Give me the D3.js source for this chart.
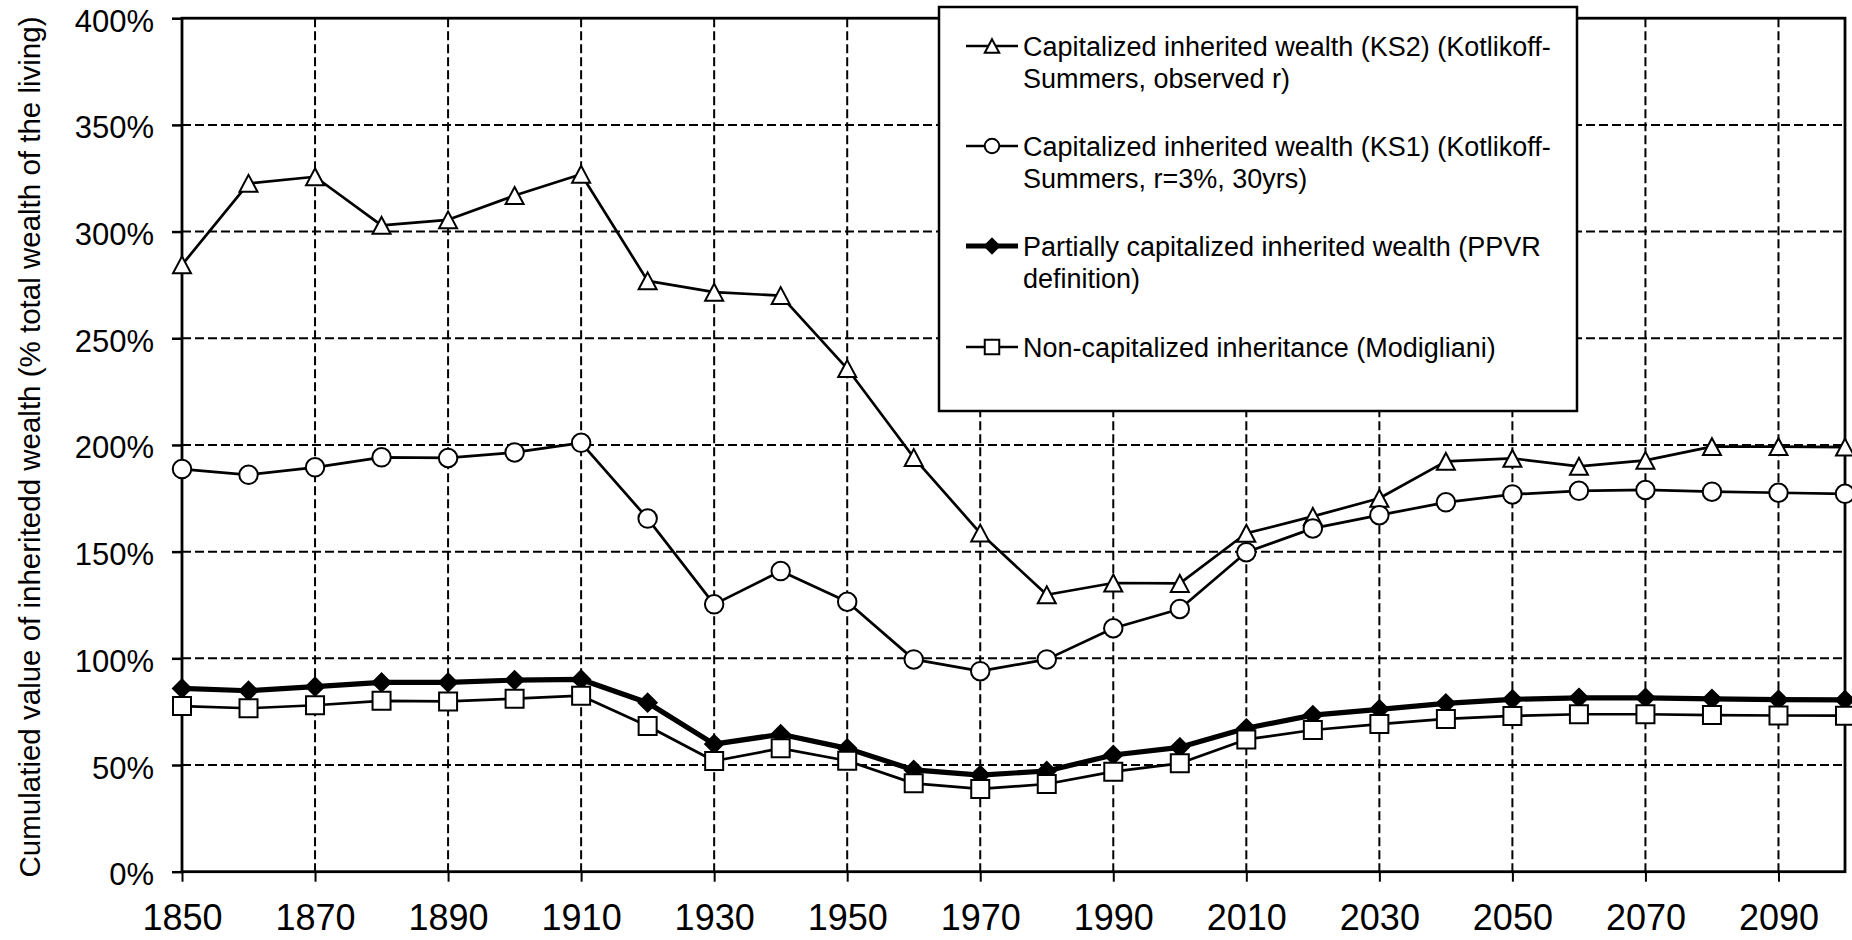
<!DOCTYPE html>
<html>
<head>
<meta charset="utf-8">
<script src="https://cdn.jsdelivr.net/npm/d3@7"></script>
<style>
  html, body { margin: 0; padding: 0; background: #fff; }
  svg { display: block; font-family: "Liberation Sans", Arial, sans-serif; }
</style>
</head>
<body>
<svg id="chart" width="1852" height="940"></svg>
<script>
// ---- data ----
const years = [1850,1860,1870,1880,1890,1900,1910,1920,1930,1940,1950,1960,1970,1980,1990,2000,2010,2020,2030,2040,2050,2060,2070,2080,2090,2100];
const ks2 = [284.4,322.6,325.7,302.9,305.5,316.9,326.9,276.9,271.6,270.0,235.8,194.1,158.7,129.8,135.3,135.1,158.6,166.5,175.0,192.3,193.7,190.0,192.8,199.2,199.2,199.0];
const ks1 = [188.7,186.0,189.5,194.2,193.9,196.5,201.0,165.5,125.3,140.9,126.5,99.5,94.0,99.5,114.1,123.1,149.7,160.9,167.1,173.1,176.8,178.5,178.9,178.1,177.6,177.1];
const ppvr = [85.9,84.8,86.7,88.7,88.7,89.8,90.1,79.2,59.8,64.4,57.8,47.7,45.3,47.2,54.7,58.3,67.2,73.4,76.1,78.9,80.8,81.5,81.5,81.0,80.6,80.5];
const modig = [77.6,76.6,78.0,80.1,79.8,81.1,82.5,68.3,51.9,57.8,52.0,41.4,38.8,41.1,46.9,50.8,62.0,66.4,69.2,71.6,73.0,73.8,73.8,73.4,73.2,73.1];
const yTicks = [0,50,100,150,200,250,300,350,400];
const xTicks = [1850,1870,1890,1910,1930,1950,1970,1990,2010,2030,2050,2070,2090];
const yTitle = "Cumulatied value of inheritedd wealth (% total wealth of the living)";
const legendLabels = [
  ["Capitalized inherited wealth (KS2) (Kotlikoff-", "Summers, observed r)"],
  ["Capitalized inherited wealth (KS1) (Kotlikoff-", "Summers, r=3%, 30yrs)"],
  ["Partially capitalized inherited wealth (PPVR", "definition)"],
  ["Non-capitalized inheritance (Modigliani)"]
];

// ---- setup ----
const svg = d3.select("#chart");
const x = d3.scaleLinear().domain([1850, 2100]).range([182, 1845]);
const y = d3.scaleLinear().domain([0, 400]).range([871.7, 18.2]);

const series = [
  {values: ks2, marker: "triangle", width: 2.7},
  {values: ks1, marker: "circle", width: 2.7},
  {values: ppvr, marker: "diamond", width: 5.2},
  {values: modig, marker: "square", width: 2.7}
];

function markerPath(type, s) {
  const h = s / 2;
  if (type === "triangle") {
    const hh = s * 0.47;
    return `M0,${-hh}L${h},${hh}L${-h},${hh}Z`;
  }
  if (type === "square") return `M${-h},${-h}H${h}V${h}H${-h}Z`;
  if (type === "diamond") return `M0,${-h}L${h},0L0,${h}L${-h},0Z`;
  if (type === "circle") return `M${h},0A${h},${h} 0 1,1 ${-h},0A${h},${h} 0 1,1 ${h},0Z`;
}

// ---- gridlines ----
const grid = svg.append("g");
grid.selectAll("line.h").data(yTicks.filter(d => d > 0 && d < 400)).join("line")
  .attr("x1", x(1850)).attr("x2", x(2100))
  .attr("y1", d => y(d)).attr("y2", d => y(d))
  .attr("stroke", "#000").attr("stroke-width", 2).attr("stroke-dasharray", "9,4");
grid.selectAll("line.v").data(xTicks.filter(d => d > 1850)).join("line")
  .attr("x1", d => x(d)).attr("x2", d => x(d))
  .attr("y1", y(400)).attr("y2", y(0))
  .attr("stroke", "#000").attr("stroke-width", 2).attr("stroke-dasharray", "9,4");

// ---- frame ----
svg.append("rect")
  .attr("x", x(1850)).attr("y", y(400))
  .attr("width", x(2100) - x(1850)).attr("height", y(0) - y(400))
  .attr("fill", "none").attr("stroke", "#000").attr("stroke-width", 2.8);

// ---- axes ----
const yAxis = svg.append("g").attr("transform", `translate(${x(1850)},0)`)
  .call(d3.axisLeft(y).tickValues(yTicks).tickSize(10).tickPadding(18).tickFormat(d => d + "%"));
yAxis.select(".domain").remove();
yAxis.selectAll(".tick line").attr("stroke-width", 2.5);
yAxis.selectAll(".tick text").attr("font-size", 31).attr("dy", "0.42em")
  .attr("font-family", "Liberation Sans, Arial, sans-serif").attr("fill", "#000");

const xAxis = svg.append("g").attr("transform", `translate(0,${y(0)})`)
  .call(d3.axisBottom(x).tickValues(xTicks).tickSize(10).tickPadding(23).tickFormat(d3.format("d")));
xAxis.select(".domain").remove();
xAxis.selectAll(".tick line").attr("stroke-width", 2);
xAxis.selectAll(".tick text").attr("font-size", 36)
  .attr("font-family", "Liberation Sans, Arial, sans-serif").attr("fill", "#000");

// ---- y title ----
svg.append("text")
  .attr("transform", `translate(40,447) rotate(-90)`)
  .attr("text-anchor", "middle")
  .attr("font-size", 29.5)
  .attr("fill", "#000")
  .text(yTitle);

// ---- series ----
const line = d3.line().x((d, i) => x(years[i])).y(d => y(d));
series.forEach(s => {
  const g = svg.append("g");
  g.append("path").datum(s.values)
    .attr("d", line)
    .attr("fill", "none").attr("stroke", "#000").attr("stroke-width", s.width)
    .attr("stroke-linejoin", "round");
  const size = s.marker === "circle" ? 18.5 : 18;
  g.selectAll("path.m").data(s.values).join("path")
    .attr("transform", (d, i) => `translate(${x(years[i])},${y(d)})`)
    .attr("d", markerPath(s.marker, size))
    .attr("fill", s.marker === "diamond" ? "#000" : "#fff")
    .attr("stroke", "#000").attr("stroke-width", 2);
});

// ---- legend ----
const lg = svg.append("g");
lg.append("rect").attr("x", 939).attr("y", 7).attr("width", 638).attr("height", 404)
  .attr("fill", "#fff").attr("stroke", "#000").attr("stroke-width", 2.5);
const baselines = [56, 156, 256, 357];
legendLabels.forEach((lines, i) => {
  const s = series[i];
  const cy = baselines[i] - 10;
  lg.append("line").attr("x1", 966).attr("x2", 1018).attr("y1", cy).attr("y2", cy)
    .attr("stroke", "#000").attr("stroke-width", s.width);
  lg.append("path").attr("transform", `translate(992,${cy})`)
    .attr("d", markerPath(s.marker, 14.5))
    .attr("fill", s.marker === "diamond" ? "#000" : "#fff")
    .attr("stroke", "#000").attr("stroke-width", 2);
  const t = lg.append("text").attr("font-size", 27).attr("fill", "#000");
  lines.forEach((ln, j) => {
    t.append("tspan").attr("x", 1023).attr("y", baselines[i] + j * 31.5).text(ln);
  });
});
</script>
</body>
</html>
